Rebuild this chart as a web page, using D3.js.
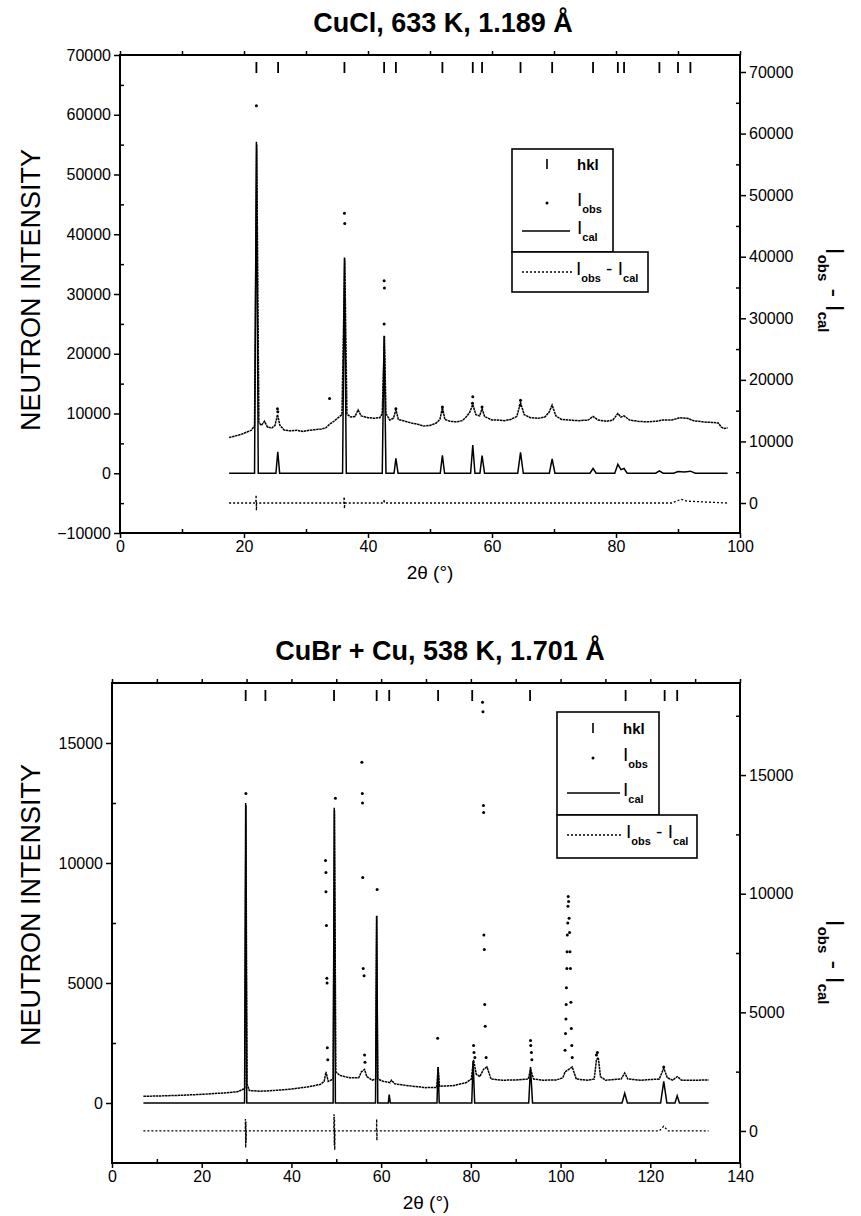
<!DOCTYPE html>
<html>
<head>
<meta charset="utf-8">
<script src="https://cdn.jsdelivr.net/npm/d3@7"></script>
<style>
  body { margin: 0; background: #fff; }
  svg { display: block; font-family: 'Liberation Sans', Arial, sans-serif; }
</style>
</head>
<body>
<script>
// ---- CuCl, 633 K (top panel) ----
const hklTop = [22.0, 25.5, 36.2, 42.6, 44.5, 52.0, 56.9, 58.4, 64.6, 69.7, 76.3, 80.3, 81.3, 87.0, 90.0, 92.0];

const calcTop = [
  [17.6, 0], [21.7, 0], [22.0, 55500], [22.3, 0], [25.15, 0], [25.45, 3600], [25.75, 0],
  [35.9, 0], [36.2, 36100], [36.5, 0], [42.3, 0], [42.6, 23000], [42.9, 0],
  [44.2, 0], [44.5, 2500], [44.85, 0], [51.65, 0], [52.0, 3000], [52.35, 0],
  [56.55, 0], [56.9, 4700], [57.25, 0], [58.05, 0], [58.4, 2950], [58.8, 0],
  [64.15, 0], [64.6, 3500], [65.05, 0], [69.25, 0], [69.7, 2400], [70.15, 0],
  [75.8, 0], [76.3, 800], [76.8, 0], [79.8, 0], [80.3, 1500], [80.8, 600], [81.3, 800], [81.8, 0],
  [86.4, 0], [87.0, 400], [87.6, 0], [89.3, 0], [90.0, 300], [91.0, 200], [92.0, 350], [92.8, 0],
  [98.0, 0],
];

const obsTopLine = [
  [17.6, 6000], [18.5, 6200], [19.5, 6500], [20.5, 6900], [21.2, 7200], [21.7, 8000], [22.05, 55000],
  [22.4, 8500], [22.8, 8000], [23.3, 8700], [23.8, 7700], [24.5, 7600], [25.0, 8000], [25.4, 9800],
  [25.8, 8000], [26.5, 7200], [27.5, 7100], [28.5, 7200], [29.5, 7000], [30.5, 7200], [31.5, 7300],
  [32.5, 7400], [33.2, 7600], [33.8, 8200], [34.5, 8700], [35.2, 9300], [35.8, 9800], [36.25, 36000],
  [36.6, 9900], [37.2, 9400], [37.9, 9500], [38.4, 10600], [38.9, 9600], [40.0, 9300], [41.0, 9200],
  [41.9, 9300], [42.3, 10000], [42.65, 23000], [42.9, 10000], [43.5, 8900], [44.1, 9200], [44.5, 10600],
  [44.9, 9000], [46.0, 8700], [47.0, 8400], [48.0, 8200], [49.0, 7900], [50.0, 8000], [51.0, 8400],
  [51.6, 9000], [52.0, 11000], [52.4, 9000], [53.2, 8700], [54.2, 8600], [55.2, 8800], [55.9, 9500],
  [56.4, 10200], [56.9, 11500], [57.4, 9800], [58.0, 9600], [58.4, 10800], [58.8, 9500], [60.0, 8900],
  [61.0, 8900], [62.0, 8800], [63.0, 9000], [64.0, 9500], [64.6, 11800], [65.2, 9800], [66.2, 9300],
  [67.5, 9200], [68.5, 9400], [69.2, 10200], [69.7, 11400], [70.3, 9600], [71.2, 9000], [72.5, 8900],
  [74.0, 8800], [75.5, 8900], [76.3, 9500], [77.1, 8900], [78.5, 8700], [79.5, 8900], [80.3, 10000],
  [80.8, 9400], [81.3, 9600], [82.2, 8900], [83.5, 8700], [85.0, 8600], [86.5, 8700], [87.5, 8900],
  [89.0, 8900], [90.3, 9300], [91.5, 9200], [92.5, 8800], [94.0, 8600], [95.5, 8500], [96.5, 8400],
  [97.0, 7700], [97.5, 7500], [98.0, 7600],
];

const obsTopDots = [
  [22.0, 61500], [36.2, 43500], [36.25, 41800], [42.6, 32200], [42.65, 31000], [42.6, 25000],
  [25.4, 10800], [25.45, 10300], [33.8, 12500], [44.5, 10800], [52.0, 11100], [52.0, 10300],
  [56.9, 12800], [56.85, 11700], [58.4, 11100], [64.6, 12200], [64.55, 11400],
];

const diffTop = [
  [17.6, 0], [21.9, 0], [21.95, 1300], [22.0, -1200], [22.05, 0], [36.1, 0], [36.15, 1000], [36.2, -900],
  [36.25, 0], [42.55, 0], [42.6, 600], [42.65, 0], [89.0, 0], [90.5, 600], [91.5, 300], [98.0, 0],
];

// ---- CuBr + Cu, 538 K (bottom panel) ----
const hklBot = [29.8, 34.2, 49.5, 59.0, 61.8, 72.7, 80.3, 93.2, 114.5, 123.2, 126.0];

const calcBot = [
  [7.0, 0], [29.55, 0], [29.8, 12500], [30.05, 0], [49.3, 0], [49.55, 12300], [49.8, 0],
  [58.75, 0], [59.0, 7800], [59.25, 0], [61.6, 0], [61.8, 350], [62.05, 0], [72.45, 0], [72.7, 1500],
  [72.95, 0], [80.2, 0], [80.5, 1750], [80.85, 0], [92.9, 0], [93.3, 1500], [93.75, 0],
  [113.7, 0], [114.3, 400], [114.9, 0], [122.3, 0], [123.0, 900], [123.7, 0],
  [125.5, 0], [126.0, 300], [126.5, 0], [133.0, 0],
];

const obsBotLine = [
  [7.0, 280], [10.0, 290], [15.0, 320], [20.0, 360], [25.0, 420], [28.0, 470], [29.6, 600],
  [29.85, 12400], [30.1, 800], [30.6, 520], [33.0, 490], [36.0, 520], [40.0, 580], [44.0, 680],
  [46.5, 780], [47.3, 900], [47.7, 1300], [48.2, 900], [49.3, 1000], [49.6, 12200], [49.9, 1300],
  [50.8, 1150], [53.0, 1050], [55.0, 1050], [55.6, 1300], [56.3, 1400], [56.8, 1100], [58.0, 950],
  [58.8, 1000], [59.0, 7800], [59.25, 1000], [60.5, 900], [62.0, 850], [62.3, 950], [63.0, 800],
  [66.0, 720], [70.0, 640], [72.4, 650], [72.7, 1500], [73.0, 700], [76.0, 720], [79.0, 850],
  [80.1, 1000], [80.6, 1800], [81.2, 1200], [82.0, 1100], [82.8, 1400], [83.6, 1500], [84.5, 1000],
  [87.0, 950], [90.0, 960], [92.8, 1000], [93.3, 1400], [94.0, 1000], [96.0, 950], [99.0, 960],
  [100.5, 1050], [101.0, 1300], [102.6, 1500], [103.5, 1000], [106.0, 950], [107.5, 1000],
  [108.0, 1800], [108.4, 1900], [108.9, 1100], [110.0, 950], [113.5, 1000], [114.3, 1250],
  [115.0, 1000], [118.0, 950], [122.0, 1000], [123.0, 1450], [123.8, 1050], [125.0, 950],
  [126.0, 1100], [127.0, 950], [130.0, 950], [133.0, 960],
];

const obsBotDots = [
  [29.85, 12900],
  [47.6, 10100], [47.7, 9600], [47.7, 8800], [47.8, 7400], [47.9, 5200], [47.95, 5000], [48.0, 2300], [48.1, 1800],
  [49.8, 12700],
  [55.7, 14200], [55.8, 12900], [55.85, 12500], [55.9, 9400], [56.0, 5600], [56.2, 5300], [56.3, 2000], [56.4, 1700],
  [59.1, 8900], [72.6, 2700],
  [80.6, 2400], [80.7, 2100], [80.9, 1900],
  [82.6, 16700], [82.7, 16300], [82.8, 12400], [82.85, 12100], [82.9, 7000], [83.0, 6400], [83.1, 4100], [83.2, 3200], [83.4, 1900],
  [93.3, 2600], [93.35, 2400], [93.5, 2100], [93.6, 1800],
  [101.0, 2200], [101.1, 2900], [101.2, 3500], [101.25, 4100], [101.3, 4800], [101.4, 5600], [101.45, 6300],
  [101.5, 7000], [101.6, 7500], [101.65, 8200], [101.7, 8600], [101.8, 8400], [101.9, 7700], [102.0, 7100],
  [102.1, 6300], [102.2, 5600], [102.3, 4200], [102.4, 3100], [102.5, 2400], [102.6, 1900],
  [108.0, 2000], [108.2, 2100], [123.0, 1500],
];

const diffBot = [
  [7.0, 0], [29.7, 0], [29.75, 500], [29.8, -700], [29.85, 400], [29.9, -500], [29.95, 0],
  [49.45, 0], [49.5, 700], [49.55, -600], [49.6, 600], [49.65, -800], [49.7, 0],
  [58.95, 0], [59.0, 500], [59.05, -400], [59.1, 0], [122.0, 0], [123.0, 200], [124.0, 0], [133.0, 0],
];

// ---- tick labels ----
const xTicksTop = [0, 20, 40, 60, 80, 100];
const yTicksTop = [-10000, 0, 10000, 20000, 30000, 40000, 50000, 60000, 70000];
const yRightTicksTop = [0, 10000, 20000, 30000, 40000, 50000, 60000, 70000];
const xTicksBot = [0, 20, 40, 60, 80, 100, 120, 140];
const yTicksBot = [0, 5000, 10000, 15000];
const yRightTicksBot = [0, 5000, 10000, 15000];

const svg = d3.select('body').append('svg')
  .attr('width', 861)
  .attr('height', 1216);

function subText(sel, parts, big, small, shift) {
  // parts: [text, isSub]
  let prev = false;
  parts.forEach(([t, sub]) => {
    const ts = sel.append('tspan').text(t)
      .attr('font-size', sub ? small : big)
      .attr('font-weight', sub ? 'bold' : 'normal');
    if (sub !== prev) ts.attr('dy', sub ? shift : -shift);
    prev = sub;
  });
}

function drawPanel(p) {
  const x = d3.scaleLinear().domain(p.xDomain).range([p.left, p.right]);
  const y = d3.scaleLinear().domain(p.yDomain).range([p.bottom, p.top]);
  const yR = d3.scaleLinear().domain(p.yRDomain).range([p.bottom, p.top]);
  const g = svg.append('g');

  // axes
  const styleAxis = (a) => {
    a.select('.domain').remove();
    a.selectAll('line').attr('stroke', '#000').attr('stroke-width', 1.5);
    a.selectAll('text').attr('fill', '#000').attr('font-size', 16)
      .attr('font-family', "'Liberation Sans', Arial, sans-serif");
  };
  const fmt = d3.format('d');
  g.append('g').attr('transform', `translate(${p.left},0)`)
    .call(d3.axisLeft(y).tickValues(p.yTicks).tickSize(6).tickPadding(3).tickFormat(fmt)).call(styleAxis);
  g.append('g').attr('transform', `translate(${p.left},0)`)
    .call(d3.axisLeft(y).tickValues(p.yTicks.map((v) => v + p.yStep / 2).filter((v) => v < p.yDomain[1]))
      .tickSize(-4).tickFormat('')).call(styleAxis);
  g.append('g').attr('transform', `translate(${p.right},0)`)
    .call(d3.axisRight(yR).tickValues(p.yRTicks).tickSize(6).tickPadding(3).tickFormat(fmt)).call(styleAxis);
  g.append('g').attr('transform', `translate(${p.right},0)`)
    .call(d3.axisRight(yR).tickValues(p.yRTicks.map((v) => v + p.yStep / 2).filter((v) => v < p.yRDomain[1]))
      .tickSize(-4).tickFormat('')).call(styleAxis);
  g.append('g').attr('transform', `translate(0,${p.bottom})`)
    .call(d3.axisBottom(x).tickValues(p.xTicks).tickSize(5).tickPadding(3).tickFormat(fmt)).call(styleAxis);
  g.append('g').attr('transform', `translate(0,${p.bottom})`)
    .call(d3.axisBottom(x).tickValues(p.xTicks.slice(1).map((v) => v - 10)).tickSize(-4).tickFormat('')).call(styleAxis);
  g.append('g').attr('transform', `translate(0,${p.top})`)
    .call(d3.axisTop(x).tickValues(d3.range(p.xDomain[0], p.xDomain[1] + 1, 10)).tickSize(4).tickFormat('')).call(styleAxis);

  g.append('rect')
    .attr('x', p.left).attr('y', p.top)
    .attr('width', p.right - p.left).attr('height', p.bottom - p.top)
    .attr('fill', 'none').attr('stroke', '#000').attr('stroke-width', 2);

  // hkl reflections
  g.append('g').selectAll('line').data(p.hkl).join('line')
    .attr('x1', (d) => x(d)).attr('x2', (d) => x(d))
    .attr('y1', p.top + 7).attr('y2', p.top + 18)
    .attr('stroke', '#000').attr('stroke-width', 1.8);

  const line = d3.line().x((d) => x(d[0])).y((d) => y(d[1]));
  const lineR = d3.line().x((d) => x(d[0])).y((d) => yR(d[1]));

  g.append('path').datum(p.calc).attr('d', line)
    .attr('fill', 'none').attr('stroke', '#000').attr('stroke-width', 1.5);
  g.append('path').datum(p.obs).attr('d', line)
    .attr('fill', 'none').attr('stroke', '#000').attr('stroke-width', 1.5)
    .attr('stroke-dasharray', '2.5,0.6');
  g.append('g').selectAll('circle').data(p.dots).join('circle')
    .attr('cx', (d) => x(d[0])).attr('cy', (d) => y(d[1])).attr('r', 1.5).attr('fill', '#000');
  g.append('path').datum(p.diff).attr('d', lineR)
    .attr('fill', 'none').attr('stroke', '#000').attr('stroke-width', 1.3)
    .attr('stroke-dasharray', '2,2');

  // titles
  g.append('text').attr('x', p.titleX).attr('y', p.titleY)
    .attr('text-anchor', 'middle').attr('font-size', 27).attr('font-weight', 'bold')
    .text(p.title);
  g.append('text').attr('x', (p.left + p.right) / 2).attr('y', p.xTitleY)
    .attr('text-anchor', 'middle').attr('font-size', 19)
    .text('2θ (°)');
  g.append('text')
    .attr('transform', `translate(40,${p.yTitleY}) rotate(-90)`)
    .attr('text-anchor', 'middle').attr('font-size', 27)
    .text('NEUTRON  INTENSITY');
  const rt = g.append('text')
    .attr('transform', `translate(826,${p.rTitleY}) rotate(90)`)
    .attr('text-anchor', 'middle');
  subText(rt, [['I', false], ['obs', true], [' - ', false], ['I', false], ['cal', true]], 26, 15, 8);

  // legend
  const L = p.legend;
  g.append('rect').attr('x', L.x).attr('y', L.y).attr('width', L.w1).attr('height', L.h1)
    .attr('fill', '#fff').attr('stroke', '#000').attr('stroke-width', 1.6);
  g.append('rect').attr('x', L.x).attr('y', L.y + L.h1).attr('width', L.w2).attr('height', L.h2)
    .attr('fill', '#fff').attr('stroke', '#000').attr('stroke-width', 1.6);
  g.append('line').attr('x1', L.sx).attr('x2', L.sx).attr('y1', L.rows[0] - 6).attr('y2', L.rows[0] + 4)
    .attr('stroke', '#000').attr('stroke-width', 1.6);
  g.append('text').attr('x', L.tx).attr('y', L.rows[0] + 5).attr('font-size', 15).attr('font-weight', 'bold').text('hkl');
  g.append('circle').attr('cx', L.sx).attr('cy', L.rows[1]).attr('r', 1.5);
  subText(g.append('text').attr('x', L.tx).attr('y', L.rows[1] + 3), [['I', false], ['obs', true]], 19, 11, 7);
  g.append('line').attr('x1', L.lx1).attr('x2', L.lx2).attr('y1', L.rows[2]).attr('y2', L.rows[2])
    .attr('stroke', '#000').attr('stroke-width', 1.5);
  subText(g.append('text').attr('x', L.tx).attr('y', L.rows[2] + 3), [['I', false], ['cal', true]], 19, 11, 7);
  g.append('line').attr('x1', L.lx1).attr('x2', L.lx2 + 3).attr('y1', L.rows[3]).attr('y2', L.rows[3])
    .attr('stroke', '#000').attr('stroke-width', 1.3).attr('stroke-dasharray', '2,2');
  subText(g.append('text').attr('x', L.lx2 + 6).attr('y', L.rows[3] + 3),
    [['I', false], ['obs', true], [' - ', false], ['I', false], ['cal', true]], 19, 11, 7);
}

drawPanel({
  left: 120, right: 740, top: 55, bottom: 533,
  xDomain: [0, 100], yDomain: [-10000, 70000], yRDomain: [-4870, 72760],
  xTicks: xTicksTop, yTicks: yTicksTop, yRTicks: yRightTicksTop, yStep: 10000,
  hkl: hklTop, calc: calcTop, obs: obsTopLine, dots: obsTopDots, diff: diffTop,
  title: 'CuCl, 633 K, 1.189 Å', titleX: 443, titleY: 32, xTitleY: 579, yTitleY: 290, rTitleY: 290,
  legend: { x: 512, y: 149, w1: 101, h1: 103, w2: 136, h2: 40, sx: 547, tx: 577, lx1: 522, lx2: 570, rows: [165, 203, 231, 272] },
});

drawPanel({
  left: 112, right: 740, top: 683, bottom: 1163,
  xDomain: [0, 140], yDomain: [-2500, 17500], yRDomain: [-1350, 18880],
  xTicks: xTicksBot, yTicks: yTicksBot, yRTicks: yRightTicksBot, yStep: 5000,
  hkl: hklBot, calc: calcBot, obs: obsBotLine, dots: obsBotDots, diff: diffBot,
  title: 'CuBr + Cu, 538 K, 1.701 Å', titleX: 440, titleY: 660, xTitleY: 1209, yTitleY: 905, rTitleY: 962,
  legend: { x: 557, y: 712, w1: 102, h1: 103, w2: 140, h2: 43, sx: 593, tx: 623, lx1: 567, lx2: 620, rows: [729, 758, 793, 835] },
});
</script>
</body>
</html>
